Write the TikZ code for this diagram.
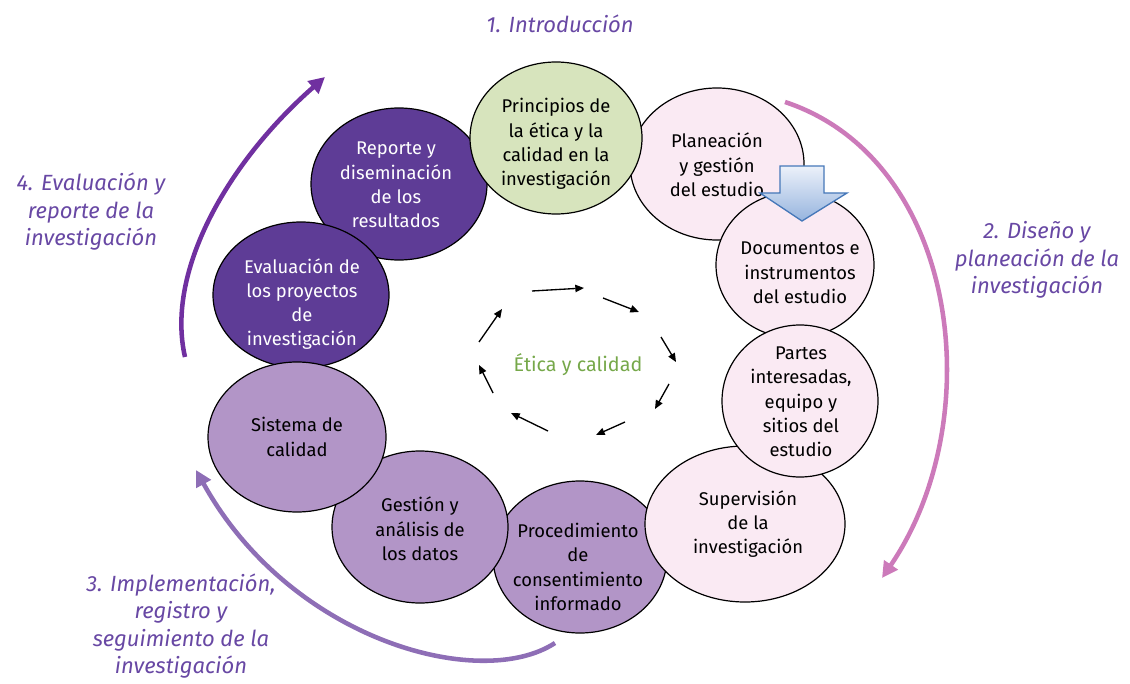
\documentclass[tikz,border=0pt]{standalone}
\usepackage{fontspec}
\setmainfont{Fira Sans}
\usetikzlibrary{shapes.geometric,arrows.meta}
\definecolor{grn}{RGB}{215,228,189}
\definecolor{pnk}{RGB}{250,234,243}
\definecolor{dpur}{RGB}{94,60,150}
\definecolor{mpur}{RGB}{178,149,199}
\definecolor{lbl}{RGB}{104,72,164}
\definecolor{arcL}{RGB}{112,48,160}
\definecolor{arcR}{RGB}{204,122,186}
\definecolor{arcB}{RGB}{142,110,182}
\definecolor{eth}{RGB}{118,168,74}
\definecolor{bluo}{RGB}{70,120,185}
\definecolor{blut}{RGB}{236,241,250}
\definecolor{blub}{RGB}{150,180,222}
\begin{document}
\begin{tikzpicture}[x=0.75pt,y=-0.75pt,
  ell/.style 2 args={ellipse, draw=black, line width=0.9pt, inner sep=0pt,
    minimum width=#1*1.5pt, minimum height=#2*1.5pt},
  etxt/.style={align=center, inner sep=0pt, font=\fontsize{13.8}{18.2}\selectfont},
  lab/.style={align=center, inner sep=0pt, text=lbl, font=\fontsize{16.5}{20.6}\selectfont\itshape},
  bigarc/.style={line width=3.4pt, -{Triangle[length=12pt,width=12pt]}},
  ca/.style={line width=1pt, -{Triangle[length=6.5pt,width=5.5pt]}}
]
\useasboundingbox (0,0) rectangle (1130,684);
% ellipses (bottom to top)
\node[ell={87}{76}, fill=pnk] (plan) at (717,164) {};
\node[ell={79}{73}, fill=pnk] (doc) at (795,265) {};
\node[ell={87}{76}, fill=mpur] (proc) at (580,557) {};
\node[ell={100}{78}, fill=pnk] (sup) at (745,524) {};
\node[ell={78}{76}, fill=pnk] (part) at (800,401) {};
\node[ell={88}{76}, fill=dpur] (rep) at (399,184) {};
\node[ell={88}{73}, fill=dpur] (eval) at (301,295) {};
\node[ell={88}{76}, fill=mpur] (gest) at (420,527) {};
\node[ell={89}{75}, fill=mpur] (sist) at (297,437) {};
\node[ell={86}{76}, fill=grn] (prin) at (556,138) {};
% texts
\node[etxt] (tplan) at (717,165) {Planeación\\y gestión\\del estudio};
\node[etxt] (tdoc) at (800,273) {Documentos e\\instrumentos\\del estudio};
\node[etxt] (tproc) at (578,567) {Procedimiento\\de\\consentimiento\\informado};
\node[etxt] (tsup) at (748,524) {Supervisión\\de la\\investigación};
\node[etxt] (tpart) at (801,402) {Partes\\interesadas,\\equipo y\\sitios del\\estudio};
\node[etxt, text=white] (trep) at (396,185) {Reporte y\\diseminación\\de los\\resultados};
\node[etxt, text=white] (teval) at (302,304) {Evaluación de\\los proyectos\\de\\investigación};
\node[etxt] (tgest) at (420,529) {Gestión y\\análisis de\\los datos};
\node[etxt] (tsist) at (297,437) {Sistema de\\calidad};
\node[etxt] (tprin) at (556,144) {Principios de\\la ética y la\\calidad en la\\investigación};
% blue block arrow
\path[draw=bluo, line width=1pt, top color=blut, bottom color=blub]
  (780,166) -- (824,166) -- (824,193) -- (847,193) -- (802,221) -- (760,193) -- (780,193) -- cycle;
% centre
\node[inner sep=0pt, text=eth, font=\fontsize{14.8}{16}\selectfont] (etica) at (578,365) {Ética y calidad};
\draw[ca] (532,291) -- (584,288);
\draw[ca] (603,298) -- (639,312);
\draw[ca] (661,337) -- (676,362);
\draw[ca] (669,384) -- (655,409);
\draw[ca] (625,422) -- (596,435);
\draw[ca] (548,431) -- (511,413);
\draw[ca] (493,393) -- (479,365);
\draw[ca] (479,342) -- (502,309);
% big arcs
\coordinate (a4s) at (185,357); \coordinate (a4e) at (325,77);
\coordinate (a2s) at (785,102); \coordinate (a2e) at (882,578);
\coordinate (a3s) at (555,643); \coordinate (a3e) at (196,470);
\draw[bigarc, arcL] (a4s) .. controls (165,270) and (230,160) .. (a4e);
\draw[bigarc, arcR] (a2s) .. controls (960,160) and (990,420) .. (a2e);
\draw[bigarc, arcB] (a3s) .. controls (480,692) and (290,640) .. (a3e);
% labels
\node[lab] (l1) at (560,24) {1. Introducción};
\node[lab] (l4) at (91,212) {4. Evaluación y\\reporte de la\\investigación};
\node[lab] (l2) at (1037,260) {2. Diseño y\\planeación de la\\investigación};
\node[lab] (l3) at (181,626) {3. Implementación,\\registro y\\seguimiento de la\\investigación};
\end{tikzpicture}
\end{document}
